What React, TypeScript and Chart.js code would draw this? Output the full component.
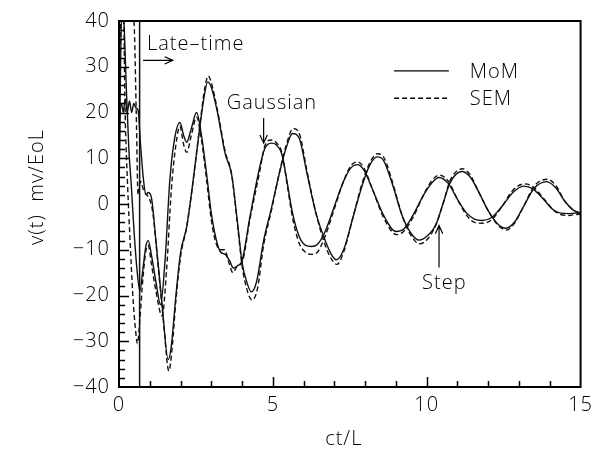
import React, { useEffect, useRef } from "react";
import { Chart, registerables } from "chart.js";

Chart.register(...registerables);

// ---- axes ----
const X_MIN = 0;
const X_MAX = 15;
const Y_MIN = -40;
const Y_MAX = 40;
const X_STEP = 5;
const Y_STEP = 10;
const X_MINOR = 1;
const Y_MINOR = 2;
const X_TITLE = "ct/L";
const Y_TITLE = "v(t)  mv/EoL";

// ---- late-time marker ----
const LATE_TIME_T = 0.67;

// ---- Step response, MoM (solid) ----
const stepMomT = [0, 0.03, 0.08, 0.14, 0.2, 0.27, 0.34, 0.41, 0.48, 0.55, 0.62, 0.7, 0.8, 0.88, 0.95, 1.05, 1.2, 1.4, 1.6, 1.7, 1.85, 2.0, 2.2, 2.35, 2.5, 2.65, 2.78, 2.88, 3.0, 3.2, 3.45, 3.66, 3.85, 4.0, 4.15, 4.3, 4.47, 4.7, 4.95, 5.2, 5.42, 5.64, 5.86, 6.1, 6.4, 6.7, 6.9, 7.06, 7.3, 7.6, 7.9, 8.15, 8.39, 8.6, 8.9, 9.2, 9.5, 9.75, 10.05, 10.3, 10.55, 10.75, 11.14, 11.4, 11.7, 12.0, 12.3, 12.57, 12.85, 13.15, 13.5, 13.9, 14.2, 14.5, 14.8, 15];
const stepMomV = [0, 18, 22, 20, 23, 20, 22.5, 20, 22, 21, 20.5, 13, 5, 2, 2.5, 1.5, -8, -22, -34, -31, -20, -10.7, -5, 2, 10, 18, 24, 26.7, 25.5, 20, 11, 6.4, -4, -12.8, -17, -19.2, -17, -8, -1, 6.4, 12, 15.4, 14.3, 7, -2, -8, -11, -12.2, -10, -3, 4, 8.5, 10.3, 9.5, 4, -2.5, -6.5, -7.9, -6.8, -4.5, 0.5, 4.5, 7.1, 6, 2.5, -1.5, -4.3, -5.3, -4, -0.5, 3.5, 4.9, 3.5, 0.5, -1.5, -2];

// ---- Step response, SEM (dashed) ----
const stepSemT = [0, 0.04, 0.1, 0.18, 0.26, 0.34, 0.42, 0.5, 0.56, 0.62, 0.7, 0.8, 0.9, 1.0, 1.1, 1.25, 1.45, 1.62, 1.72, 1.85, 2.0, 2.2, 2.35, 2.5, 2.65, 2.78, 2.9, 3.0, 3.2, 3.45, 3.66, 3.85, 4.0, 4.15, 4.32, 4.5, 4.7, 4.95, 5.2, 5.42, 5.66, 5.88, 6.1, 6.4, 6.7, 6.9, 7.08, 7.3, 7.6, 7.9, 8.15, 8.41, 8.62, 8.9, 9.2, 9.5, 9.77, 10.05, 10.3, 10.55, 10.75, 11.16, 11.4, 11.7, 12.0, 12.3, 12.59, 12.85, 13.15, 13.5, 13.92, 14.2, 14.5, 14.8, 15];
const stepSemV = [12, 45, 48, 45, 42, 46, 44, 38, 20, 2, 5, 3, 2, 1, -2, -12, -26, -36.5, -32, -21, -11.5, -5, 2, 10, 18.5, 25, 28, 26.5, 20.5, 11.5, 6.5, -4.5, -13.5, -18.5, -21, -18.5, -9, -1.5, 6.5, 12.5, 16.5, 15, 7.5, -2, -9, -12, -13.2, -10.5, -3, 4.5, 9, 11, 10, 4.5, -2.5, -7, -8.7, -7.5, -4.5, 0.5, 5, 7.7, 6.5, 2.5, -1.5, -4.5, -5.7, -4.2, -0.5, 4, 5.4, 4, 0.5, -1.5, -2];

// ---- Gaussian response, MoM (solid) ----
const gaussMomT = [0, 0.04, 0.1, 0.16, 0.24, 0.32, 0.4, 0.48, 0.58, 0.68, 0.78, 0.88, 0.95, 1.05, 1.2, 1.35, 1.5, 1.65, 1.8, 1.98, 2.1, 2.2, 2.35, 2.52, 2.68, 2.85, 3.0, 3.15, 3.3, 3.45, 3.6, 3.72, 3.85, 4.0, 4.25, 4.57, 4.73, 4.95, 5.1, 5.3, 5.47, 5.64, 5.85, 6.05, 6.26, 6.45, 6.7, 7.0, 7.3, 7.55, 7.74, 7.95, 8.25, 8.6, 9.0, 9.25, 9.55, 9.9, 10.15, 10.4, 10.7, 11.0, 11.3, 11.55, 11.8, 12.1, 12.45, 12.8, 13.15, 13.45, 13.8, 14.1, 14.35, 14.6, 14.85, 15];
const gaussMomV = [3, 25, 45, 40, 25, 12, 4, -5, -14, -19, -14, -9, -8, -11, -17, -22, -12, 5, 14, 17.8, 15, 13.5, 16.5, 20, 15, 6.4, -2, -7.5, -10.5, -11, -12.5, -14, -13.5, -12.4, -3, 8, 12, 13.3, 13, 10.7, 4.5, -2, -7, -9, -9.3, -8.8, -6, -0.5, 5, 8, 8.6, 7.5, 3, -2.5, -6, -5.5, -2.5, 2, 4.5, 5.8, 4.5, 1, -2, -3.3, -3.6, -3, -0.5, 2.5, 3.9, 3.3, 1, -1.2, -2, -2.1, -2, -2];

// ---- Gaussian response, SEM (dashed) ----
const gaussSemT = [0, 0.03, 0.08, 0.14, 0.2, 0.28, 0.36, 0.45, 0.53, 0.6, 0.68, 0.78, 0.88, 0.95, 1.05, 1.2, 1.4, 1.55, 1.7, 1.85, 1.98, 2.1, 2.2, 2.35, 2.52, 2.68, 2.85, 3.0, 3.15, 3.3, 3.43, 3.58, 3.7, 3.85, 4.0, 4.25, 4.57, 4.73, 4.95, 5.1, 5.3, 5.47, 5.64, 5.85, 6.05, 6.26, 6.45, 6.7, 7.0, 7.3, 7.55, 7.76, 7.95, 8.25, 8.6, 9.02, 9.25, 9.55, 9.9, 10.15, 10.42, 10.7, 11.0, 11.3, 11.55, 11.82, 12.1, 12.45, 12.8, 13.17, 13.45, 13.8, 14.1, 14.35, 14.6, 14.85, 15];
const gaussSemV = [5, 30, 48, 46, 20, 4, -8, -20, -27, -30.5, -25, -16, -10, -9, -13, -19, -24.5, -14, 3, 13, 17, 13, 11.3, 15, 19, 14, 5, -3.5, -8.5, -10, -10, -13, -15, -13.5, -12.8, -3.5, 7, 12.5, 14, 13.5, 11, 4, -3, -8.5, -10.5, -11, -10.5, -7, -1, 5, 8.5, 9.2, 8, 3, -3, -6.7, -6, -3, 2, 5, 6.3, 5, 1, -2.5, -4, -4.2, -3.5, -0.5, 3, 4.4, 3.8, 1.2, -1.2, -2.3, -2.5, -2.3, -2.2];

// ---- annotations (data coordinates) ----
const LATE_LABEL = "Late–time";
const LATE_LABEL_AT = { t: 0.91, v: 33.6 };
const LATE_ARROW = { t0: 0.78, t1: 1.75, v: 31.4 };
const GAUSS_LABEL = "Gaussian";
const GAUSS_LABEL_AT = { t: 3.5, v: 20.75 };
const GAUSS_ARROW = { t: 4.7, v0: 18.8, v1: 13.3 };
const STEP_LABEL = "Step";
const STEP_LABEL_AT = { t: 9.85, v: -18.6 };
const STEP_ARROW = { t: 10.4, v0: -13.9, v1: -4.7 };
const LEGEND_ITEMS = ["MoM", "SEM"];
const LEGEND_LINE = { t0: 8.94, t1: 10.72 };
const LEGEND_TEXT_T = 11.4;
const LEGEND_V = [29.1, 23.1];

// tick-mark lengths (px): minor, major
const TICK_MINOR_LEN = 6;
const TICK_MAJOR_LEN = 10;

const FONT_FAMILY = "'Open Sans', 'Liberation Sans', Arial, sans-serif";
const FONT_SIZE = 20;
const DASH = [5, 3];

const pts = (t: number[], v: number[]) => t.map((x, i) => ({ x, y: v[i] }));

function drawArrow(ctx: CanvasRenderingContext2D, x0: number, y0: number, x1: number, y1: number) {
  ctx.beginPath();
  ctx.moveTo(x0, y0);
  ctx.lineTo(x1, y1);
  const a = Math.atan2(y1 - y0, x1 - x0);
  const L = 9;
  const s = 0.42;
  ctx.moveTo(x1 - L * Math.cos(a - s), y1 - L * Math.sin(a - s));
  ctx.lineTo(x1, y1);
  ctx.lineTo(x1 - L * Math.cos(a + s), y1 - L * Math.sin(a + s));
  ctx.stroke();
}

const overlay = {
  id: "overlay",
  beforeDraw(chart: any) {
    (chart.ctx as any).letterSpacing = "1px";
  },
  afterDraw(chart: any) {
    const ctx: CanvasRenderingContext2D = chart.ctx;
    const area = chart.chartArea;
    const left = area.left, right = area.right, top = area.top, bottom = area.bottom;
    const xs = chart.scales.x;
    const ys = chart.scales.y;
    ctx.save();
    (ctx as any).letterSpacing = "1px";
    ctx.strokeStyle = "#000";
    ctx.fillStyle = "#000";
    ctx.setLineDash([]);
    // frame
    ctx.lineWidth = 2;
    ctx.strokeRect(left, top, right - left, bottom - top);
    // inward tick marks
    ctx.lineWidth = 1.5;
    for (let i = 1; i < (X_MAX - X_MIN) / X_MINOR; i++) {
      const t = X_MIN + i * X_MINOR;
      const px = Math.round(xs.getPixelForValue(t)) + 0.5;
      const len = Math.abs(t % X_STEP) < 1e-9 ? TICK_MAJOR_LEN : TICK_MINOR_LEN;
      ctx.beginPath();
      ctx.moveTo(px, bottom);
      ctx.lineTo(px, bottom - len);
      ctx.stroke();
    }
    for (let i = 1; i < (Y_MAX - Y_MIN) / Y_MINOR; i++) {
      const v = Y_MIN + i * Y_MINOR;
      const py = Math.round(ys.getPixelForValue(v)) + 0.5;
      const len = Math.abs(v % Y_STEP) < 1e-9 ? TICK_MAJOR_LEN : TICK_MINOR_LEN;
      ctx.beginPath();
      ctx.moveTo(left, py);
      ctx.lineTo(left + len, py);
      ctx.stroke();
    }

    ctx.font = `300 ${FONT_SIZE}px ${FONT_FAMILY}`;
    ctx.textBaseline = "alphabetic";
    ctx.textAlign = "left";
    ctx.lineWidth = 1.2;
    // Late-time
    ctx.fillText(LATE_LABEL, xs.getPixelForValue(LATE_LABEL_AT.t), ys.getPixelForValue(LATE_LABEL_AT.v));
    drawArrow(ctx, xs.getPixelForValue(LATE_ARROW.t0), ys.getPixelForValue(LATE_ARROW.v), xs.getPixelForValue(LATE_ARROW.t1), ys.getPixelForValue(LATE_ARROW.v));
    // Gaussian
    ctx.fillText(GAUSS_LABEL, xs.getPixelForValue(GAUSS_LABEL_AT.t), ys.getPixelForValue(GAUSS_LABEL_AT.v));
    drawArrow(ctx, xs.getPixelForValue(GAUSS_ARROW.t), ys.getPixelForValue(GAUSS_ARROW.v0), xs.getPixelForValue(GAUSS_ARROW.t), ys.getPixelForValue(GAUSS_ARROW.v1));
    // Step
    ctx.fillText(STEP_LABEL, xs.getPixelForValue(STEP_LABEL_AT.t), ys.getPixelForValue(STEP_LABEL_AT.v));
    drawArrow(ctx, xs.getPixelForValue(STEP_ARROW.t), ys.getPixelForValue(STEP_ARROW.v0), xs.getPixelForValue(STEP_ARROW.t), ys.getPixelForValue(STEP_ARROW.v1));
    // legend
    LEGEND_ITEMS.forEach((name, i) => {
      const py = ys.getPixelForValue(LEGEND_V[i]);
      ctx.save();
      ctx.lineWidth = 1.4;
      ctx.setLineDash(i === 0 ? [] : DASH);
      ctx.beginPath();
      ctx.moveTo(xs.getPixelForValue(LEGEND_LINE.t0), py);
      ctx.lineTo(xs.getPixelForValue(LEGEND_LINE.t1), py);
      ctx.stroke();
      ctx.restore();
      ctx.textBaseline = "middle";
      ctx.fillText(name, xs.getPixelForValue(LEGEND_TEXT_T), py + 1);
    });
    // axis titles
    ctx.textBaseline = "alphabetic";
    ctx.textAlign = "center";
    ctx.fillText(X_TITLE, (left + right) / 2 - 6, bottom + 58);
    ctx.save();
    ctx.translate(left - 76, (top + bottom) / 2 - 17);
    ctx.rotate(-Math.PI / 2);
    ctx.fillText(Y_TITLE, 0, 0);
    ctx.restore();
    ctx.restore();
  },
};

export default function App() {
  const ref = useRef<HTMLCanvasElement | null>(null);
  useEffect(() => {
    if (!ref.current) return;
    const line = (label: string, data: any[], dashed: boolean) => ({
      label,
      data,
      borderColor: "#111",
      borderWidth: 1.4,
      borderDash: dashed ? DASH : [],
      pointRadius: 0,
      fill: false,
      cubicInterpolationMode: "monotone" as const,
    });
    const tickFont = { family: FONT_FAMILY, size: FONT_SIZE, weight: 300 as any };
    const chart = new Chart(ref.current, {
      type: "line",
      data: {
        datasets: [
          line("Step MoM", pts(stepMomT, stepMomV), false),
          line("Step SEM", pts(stepSemT, stepSemV), true),
          line("Gaussian MoM", pts(gaussMomT, gaussMomV), false),
          line("Gaussian SEM", pts(gaussSemT, gaussSemV), true),
          {
            label: "Late-time",
            data: [{ x: LATE_TIME_T, y: Y_MIN }, { x: LATE_TIME_T, y: Y_MAX }],
            borderColor: "#111",
            borderWidth: 1.5,
            pointRadius: 0,
          },
        ],
      },
      options: {
        animation: false,
        responsive: false,
        layout: { padding: { top: 13, right: 16, left: 0, bottom: 0 } },
        plugins: { legend: { display: false }, tooltip: { enabled: false } },
        scales: {
          x: {
            type: "linear",
            min: X_MIN,
            max: X_MAX,
            grid: { display: false, drawTicks: false },
            border: { display: false },
            ticks: { stepSize: X_STEP, color: "#000", font: tickFont, padding: 6, maxRotation: 0 },
            afterFit: (s: any) => { s.height = 62; },
          },
          y: {
            type: "linear",
            min: Y_MIN,
            max: Y_MAX,
            grid: { display: false, drawTicks: false },
            border: { display: false },
            ticks: {
              stepSize: Y_STEP,
              color: "#000",
              font: tickFont,
              padding: 9,
              callback: (v: any) => (Number(v) < 0 ? `−${Math.abs(Number(v))}` : `${v}`),
            },
            afterFit: (s: any) => { s.width = 119; },
          },
        },
      },
      plugins: [overlay],
    });
    return () => chart.destroy();
  }, []);
  return (
    <div style={{ position: "fixed", left: 0, top: 0, width: 598, height: 449, background: "#fff" }}>
      <canvas ref={ref} width={598} height={449} />
    </div>
  );
}
